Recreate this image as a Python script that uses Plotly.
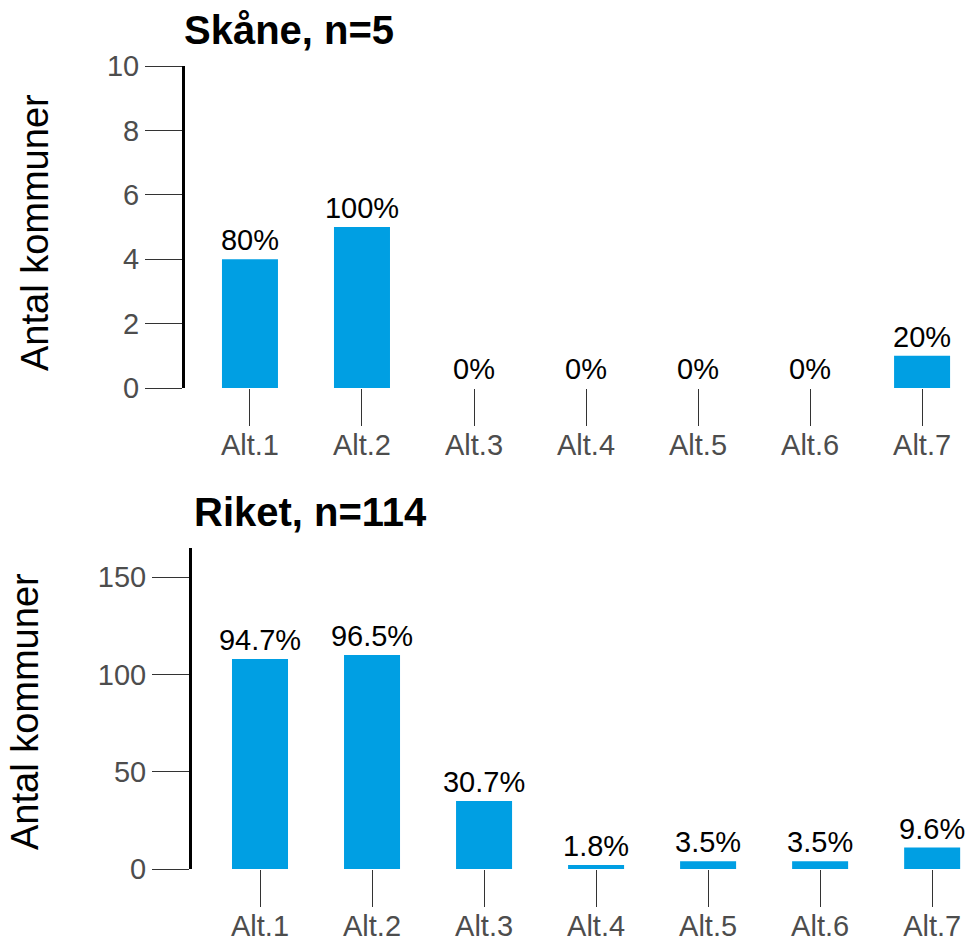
import plotly.graph_objects as go

categories = ["Alt.1", "Alt.2", "Alt.3", "Alt.4", "Alt.5", "Alt.6", "Alt.7"]
skane_counts = [4, 5, 0, 0, 0, 0, 1]
skane_pct = ["80%", "100%", "0%", "0%", "0%", "0%", "20%"]
riket_counts = [108, 110, 35, 2, 4, 4, 11]
riket_pct = ["94.7%", "96.5%", "30.7%", "1.8%", "3.5%", "3.5%", "9.6%"]
skane_title = "Skåne, n=5"
riket_title = "Riket, n=114"
y_title = "Antal kommuner"
skane_yticks = [0, 2, 4, 6, 8, 10]
riket_yticks = [0, 50, 100, 150]

W, H = 968, 941
BLUE = "#009FE3"
FONT = "Liberation Sans, Arial, sans-serif"

fig = go.Figure()
fig.add_trace(go.Bar(x=categories, y=skane_counts, text=skane_pct, xaxis="x", yaxis="y",
                     marker=dict(color=BLUE, line=dict(width=0)), width=0.5,
                     textposition="outside", constraintext="none", cliponaxis=False,
                     textfont=dict(size=29, color="black", family=FONT), showlegend=False))
fig.add_trace(go.Bar(x=categories, y=riket_counts, text=riket_pct, xaxis="x2", yaxis="y2",
                     marker=dict(color=BLUE, line=dict(width=0)), width=0.5,
                     textposition="outside", constraintext="none", cliponaxis=False,
                     textfont=dict(size=29, color="black", family=FONT), showlegend=False))

def px_x(p):
    return p / W

def px_y(p):
    return 1 - p / H

tickfont = dict(size=29, color="#4D4D4D", family=FONT)
common_x = dict(type="category", showline=False, showgrid=False, zeroline=False,
                ticks="outside", ticklen=37, tickwidth=1.3, tickcolor="#333333",
                tickfont=tickfont, automargin=False, fixedrange=True,
                ticklabelstandoff=-6)
common_y = dict(showline=True, linewidth=3, linecolor="black", showgrid=False, zeroline=False,
                ticks="outside", ticklen=37, tickwidth=1.3, tickcolor="#333333",
                tickfont=tickfont, automargin=False, fixedrange=True)

fig.update_layout(
    width=W, height=H,
    margin=dict(l=0, r=0, t=0, b=0),
    paper_bgcolor="white", plot_bgcolor="white",
    template="none",
    font=dict(family=FONT),
    xaxis=dict(common_x, domain=[px_x(185), 1], range=[-0.58, 6.41], anchor="y"),
    yaxis=dict(common_y, domain=[px_y(388), px_y(66)], range=[0, 10],
               tickvals=skane_yticks, anchor="x"),
    xaxis2=dict(common_x, domain=[px_x(192), 1], range=[-0.607, 6.32], anchor="y2"),
    yaxis2=dict(common_y, domain=[px_y(869), px_y(548)], range=[0, 165],
                tickvals=riket_yticks, anchor="x2"),
    annotations=[
        dict(text="<b>" + skane_title + "</b>", x=px_x(289), y=px_y(30), xref="paper", yref="paper",
             xanchor="center", yanchor="middle", showarrow=False,
             font=dict(size=40, color="black", family=FONT)),
        dict(text="<b>" + riket_title + "</b>", x=px_x(310), y=px_y(512), xref="paper", yref="paper",
             xanchor="center", yanchor="middle", showarrow=False,
             font=dict(size=40, color="black", family=FONT)),
        dict(text=y_title, x=px_x(35), y=px_y(233), xref="paper", yref="paper", textangle=-90,
             xanchor="center", yanchor="middle", showarrow=False,
             font=dict(size=38, color="black", family=FONT)),
        dict(text=y_title, x=px_x(25), y=px_y(712), xref="paper", yref="paper", textangle=-90,
             xanchor="center", yanchor="middle", showarrow=False,
             font=dict(size=38, color="black", family=FONT)),
    ],
)

fig.write_html("out.html", config={"displayModeBar": False},
               post_script="document.body.style.margin='0';document.body.style.overflow='hidden';")
